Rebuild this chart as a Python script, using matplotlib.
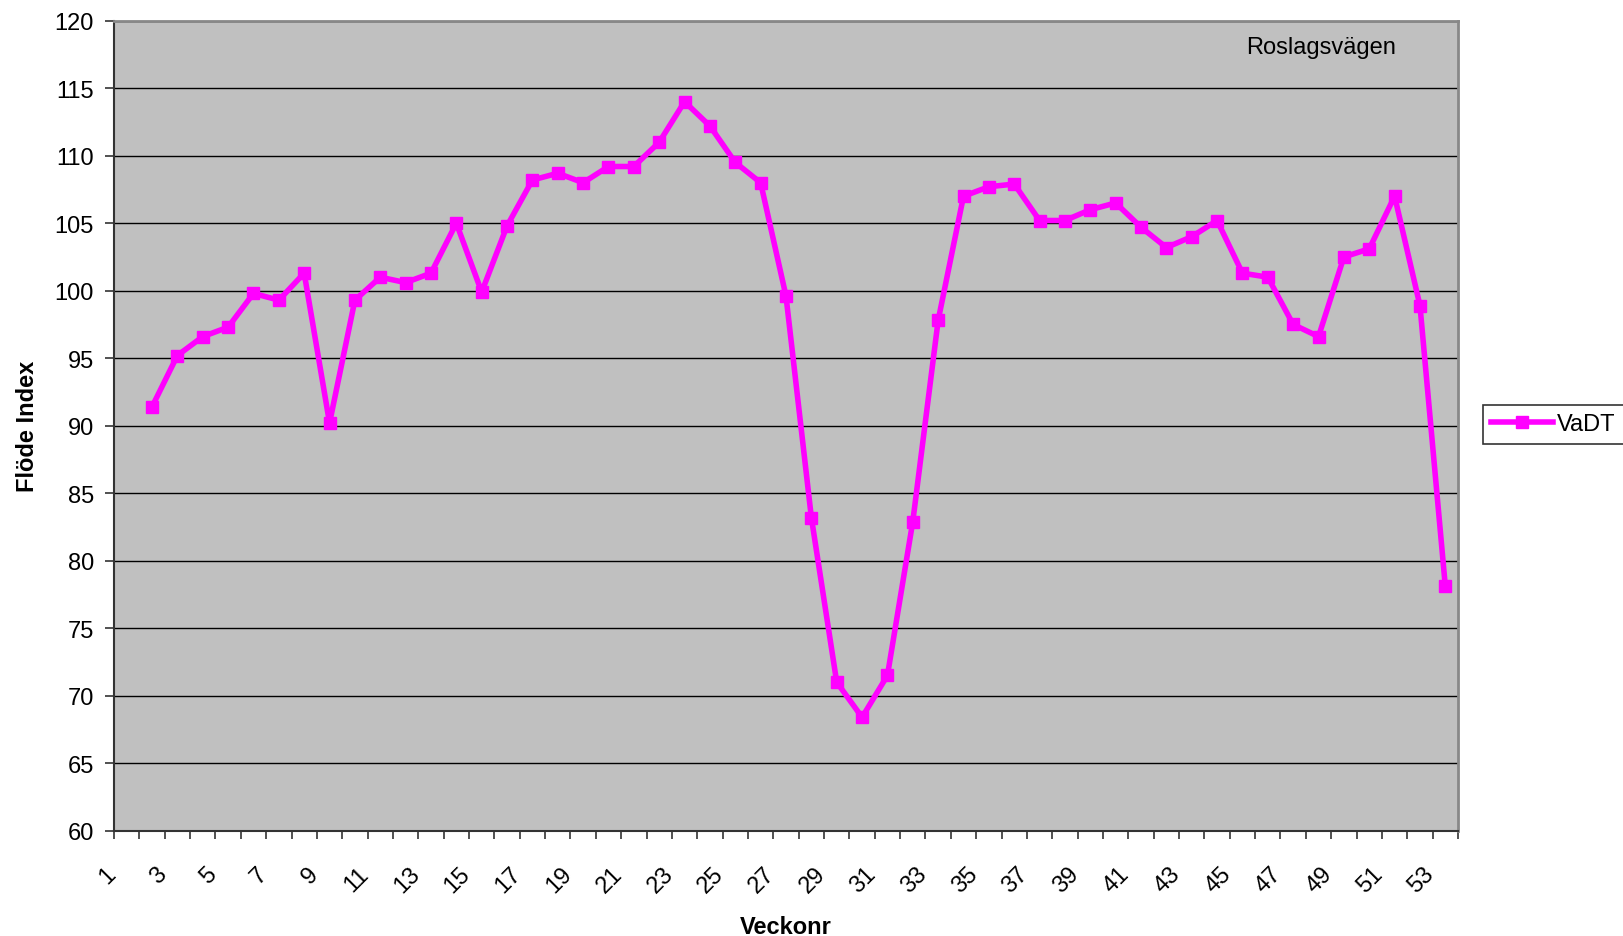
import numpy as np
import matplotlib
matplotlib.use("Agg")
import matplotlib.pyplot as plt
import matplotlib.transforms as mtransforms
from matplotlib.ticker import FixedLocator

# week categories on the x axis, series starts at week 2
weeks = list(range(1, 54))
data_weeks = list(range(2, 54))
vadt = [91.4, 95.2, 96.6, 97.3, 99.8, 99.3, 101.3, 90.2, 99.3, 101.0,
        100.6, 101.3, 105.0, 99.9, 104.8, 108.2, 108.7, 108.0, 109.2, 109.2,
        111.0, 114.0, 112.2, 109.5, 108.0, 99.6, 83.2, 71.0, 68.4, 71.5,
        82.9, 97.8, 107.0, 107.7, 107.9, 105.2, 105.2, 106.0, 106.5, 104.7,
        103.2, 104.0, 105.2, 101.3, 101.0, 97.5, 96.6, 102.5, 103.1, 107.0,
        98.9, 78.1]
label_weeks = [w for w in weeks if w % 2 == 1]
yticks = list(range(60, 121, 5))

plt.rcParams['font.family'] = ['Liberation Sans', 'DejaVu Sans']

W, H = 1624, 937
fig = plt.figure(figsize=(W / 100, H / 100), dpi=100)
ax = fig.add_axes([114 / W, 1 - 831.7 / H, (1458 - 114) / W, (831.7 - 21.7) / H])
ax.set_facecolor('#c0c0c0')

ax.plot(data_weeks, vadt, color='#ff00ff', lw=4, marker='s', ms=8,
        mec='#ff00ff', mfc='#ff00ff', label='VaDT', zorder=3)

ax.set_xlim(0.5, 53.5)
ax.set_ylim(60, 120)
ax.set_yticks(yticks)
ax.yaxis.grid(True, color='black', lw=1.0)
ax.set_axisbelow(True)

ax.xaxis.set_major_locator(FixedLocator(label_weeks))
ax.set_xticklabels([str(w) for w in label_weeks], rotation=45, ha='right')
ax.xaxis.set_minor_locator(FixedLocator(np.arange(0.5, 54, 1.0)))
ax.tick_params(axis='x', which='major', length=0, pad=23, labelsize=17)
ax.tick_params(axis='x', which='minor', length=6, width=1.2, color='#333333')
ax.tick_params(axis='y', length=6.5, width=1.2, color='#333333', pad=8, labelsize=17)

# nudge rotated labels a little to the left, as in the original
shift = mtransforms.ScaledTranslation(-7 / 100, 0, fig.dpi_scale_trans)
for lab in ax.get_xticklabels():
    lab.set_transform(lab.get_transform() + shift)

for side in ['left', 'bottom']:
    ax.spines[side].set_color('#333333')
    ax.spines[side].set_linewidth(1.5)
for side in ['top', 'right']:
    ax.spines[side].set_color('#888888')
    ax.spines[side].set_linewidth(2)

ax.set_xlabel('Veckonr', fontsize=17, fontweight='bold', labelpad=13)
ax.set_ylabel('Flöde Index', fontsize=17, fontweight='bold', labelpad=11)

fig.text(1246 / W, 1 - 48 / H, 'Roslagsvägen', fontsize=17, ha='left', va='center')

leg = fig.legend(loc='center left', bbox_to_anchor=(1483 / W, 1 - 425.5 / H),
                 fontsize=17, frameon=True, fancybox=False, handlelength=2.6,
                 borderpad=0.35, handletextpad=0.2, borderaxespad=0)
leg.get_frame().set_edgecolor('black')
leg.get_frame().set_linewidth(1.2)

fig.savefig('out.png', dpi=100)
